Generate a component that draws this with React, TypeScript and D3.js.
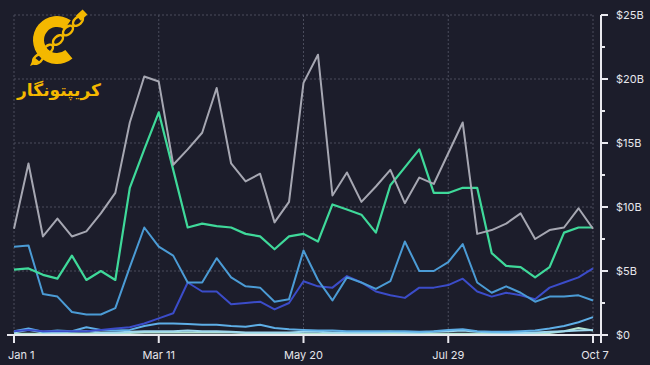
import React from 'react';
import * as d3 from 'd3';

// weekly points, Jan 1 -> Oct 7 2024 (41 weeks)
const weeks = d3.range(41).map((i) => d3.timeDay.offset(new Date(2024, 0, 1), i * 7));

const grayVals = [8.3, 13.4, 7.7, 9.1, 7.7, 8.1, 9.5, 11.1, 16.6, 20.2, 19.8, 13.3, 14.5, 15.8, 19.3, 13.4, 12.0, 12.6, 8.8, 10.4, 19.7, 21.9, 10.9, 12.7, 10.4, 11.6, 12.9, 10.3, 12.3, 11.8, 14.2, 16.6, 7.9, 8.2, 8.7, 9.5, 7.5, 8.2, 8.4, 9.9, 8.3];
const greenVals = [5.1, 5.2, 4.7, 4.4, 6.2, 4.3, 5.0, 4.3, 11.5, 14.5, 17.4, 12.9, 8.4, 8.7, 8.5, 8.4, 7.9, 7.7, 6.7, 7.7, 7.9, 7.3, 10.2, 9.8, 9.4, 8.0, 11.7, 13.1, 14.5, 11.1, 11.1, 11.5, 11.5, 6.4, 5.4, 5.3, 4.5, 5.3, 8.0, 8.4, 8.4];
const steelVals = [6.9, 7.0, 3.2, 3.0, 1.8, 1.6, 1.6, 2.1, 5.3, 8.4, 6.9, 6.2, 4.1, 4.1, 6.0, 4.5, 3.8, 3.7, 2.6, 2.8, 6.6, 4.3, 2.7, 4.5, 4.1, 3.6, 4.2, 7.3, 5.0, 5.0, 5.7, 7.1, 4.1, 3.3, 3.8, 3.3, 2.6, 3.0, 3.0, 3.1, 2.7];
const indigoVals = [0.3, 0.4, 0.3, 0.3, 0.3, 0.3, 0.4, 0.5, 0.6, 0.9, 1.3, 1.7, 4.1, 3.4, 3.4, 2.4, 2.5, 2.6, 2.0, 2.5, 4.2, 3.8, 3.7, 4.6, 4.1, 3.4, 3.1, 2.9, 3.7, 3.7, 3.9, 4.4, 3.4, 3.0, 3.3, 3.1, 2.8, 3.7, 4.1, 4.5, 5.2];
const skyVals = [0.3, 0.5, 0.25, 0.35, 0.3, 0.6, 0.4, 0.35, 0.4, 0.7, 0.9, 0.9, 0.85, 0.8, 0.8, 0.7, 0.65, 0.8, 0.55, 0.45, 0.4, 0.35, 0.35, 0.3, 0.3, 0.3, 0.3, 0.3, 0.25, 0.3, 0.4, 0.45, 0.3, 0.25, 0.25, 0.3, 0.35, 0.5, 0.7, 1.0, 1.4];
const paleVals = [0.2, 0.4, 0.2, 0.2, 0.25, 0.3, 0.2, 0.2, 0.25, 0.3, 0.3, 0.3, 0.35, 0.3, 0.3, 0.25, 0.2, 0.2, 0.2, 0.2, 0.25, 0.25, 0.2, 0.2, 0.2, 0.2, 0.25, 0.2, 0.2, 0.25, 0.3, 0.35, 0.25, 0.2, 0.15, 0.15, 0.2, 0.25, 0.3, 0.35, 0.4];
const mintVals = [0.1, 0.1, 0.1, 0.1, 0.1, 0.1, 0.1, 0.1, 0.15, 0.2, 0.2, 0.2, 0.2, 0.2, 0.2, 0.2, 0.15, 0.15, 0.1, 0.1, 0.1, 0.1, 0.1, 0.1, 0.1, 0.1, 0.1, 0.1, 0.1, 0.1, 0.1, 0.1, 0.1, 0.1, 0.1, 0.1, 0.1, 0.15, 0.3, 0.55, 0.35];

const series = [
  { name: 'mint', values: mintVals, color: '#b4e4cf', width: 2 },
  { name: 'pale', values: paleVals, color: '#9fd8ef', width: 2 },
  { name: 'sky', values: skyVals, color: '#5eaee6', width: 2 },
  { name: 'indigo', values: indigoVals, color: '#3b4cc9', width: 2 },
  { name: 'steel', values: steelVals, color: '#4b9bd5', width: 2 },
  { name: 'green', values: greenVals, color: '#3fd99a', width: 2.2 },
  { name: 'gray', values: grayVals, color: '#a6a7b2', width: 2 },
];

const xTickDates = [new Date(2024, 0, 1), new Date(2024, 2, 11), new Date(2024, 4, 20), new Date(2024, 6, 29), new Date(2024, 9, 7)];
const xTickLabels = ['Jan 1', 'Mar 11', 'May 20', 'Jul 29', 'Oct 7'];
const yTicks = [0, 5, 10, 15, 20, 25];
const yMinor = [2.5, 7.5, 12.5, 17.5, 22.5];

const W = 650;
const H = 365;
const BG = '#1c1d2b';
const GOLD = '#f4b800';

export default function App() {
  const x = d3.scaleTime().domain([weeks[0], weeks[40]]).range([14, 593]);
  const y = d3.scaleLinear().domain([0, 25]).range([335, 15]);
  const axisX = 601;

  const line = d3
    .line<number>()
    .x((_, i) => x(weeks[i]))
    .y((d) => y(d));

  const ringArc = d3.arc()({
    innerRadius: 13,
    outerRadius: 24,
    startAngle: (140 / 180) * Math.PI,
    endAngle: (395 / 180) * Math.PI,
  } as any) as string;

  const links = d3.range(5).map((k) => {
    const t = k / 4;
    return { cx: 78 - t * 40, cy: 21 + t * 38 };
  });

  return (
    <svg
      width={W}
      height={H}
      style={{ position: 'absolute', left: 0, top: 0, background: BG, fontFamily: 'Inter, "DejaVu Sans", sans-serif' }}
    >
      <rect width={W} height={H} fill={BG} />

      {/* grid */}
      <g stroke="#4a4c5c" strokeWidth={1} strokeDasharray="2,2">
        {yTicks.slice(1).map((t) => (
          <line key={'gy' + t} x1={14} x2={593} y1={y(t)} y2={y(t)} />
        ))}
        {xTickDates.map((d, i) => (
          <line key={'gx' + i} x1={x(d)} x2={x(d)} y1={y(25)} y2={y(0)} />
        ))}
      </g>

      {/* logo */}
      <g>
        <path d={ringArc} transform="translate(57,40)" fill={GOLD} />
        {links.map((l, k) => (
          <ellipse
            key={'lk' + k}
            cx={l.cx}
            cy={l.cy}
            rx={6}
            ry={3.6}
            fill="none"
            stroke={GOLD}
            strokeWidth={2.4}
            transform={`rotate(-43 ${l.cx} ${l.cy})`}
          />
        ))}
        <rect x={77} y={12} width={9} height={7} fill={GOLD} transform="rotate(-43 81 15)" />
        <polygon points="30,66 34,57 40,62" fill={GOLD} />
        <text
          x={59}
          y={96}
          textAnchor="middle"
          fontFamily='"DejaVu Sans", sans-serif'
          fontWeight="bold"
          fontSize={17}
          fill={GOLD}
          direction="rtl"
        >
          کریپتونگار
        </text>
      </g>

      {/* lines */}
      {series.map((s) => (
        <path
          key={s.name}
          d={line(s.values) as string}
          fill="none"
          stroke={s.color}
          strokeWidth={s.width}
          strokeLinejoin="round"
        />
      ))}

      {/* x axis */}
      <line x1={7} x2={608} y1={335} y2={335} stroke="#e8e8ee" strokeWidth={2} />
      {xTickDates.map((d, i) => (
        <g key={'xt' + i}>
          <line x1={x(d)} x2={x(d)} y1={335} y2={343} stroke="#e8e8ee" strokeWidth={2} />
          <text
            x={i === 0 ? 8 : x(d) + (i === 4 ? 2 : 0)}
            y={359}
            textAnchor={i === 0 ? 'start' : 'middle'}
            fontSize={11}
            fill="#e6e6ec"
          >
            {xTickLabels[i]}
          </text>
        </g>
      ))}

      {/* y axis */}
      <line x1={axisX} x2={axisX} y1={y(25)} y2={343} stroke="#e8e8ee" strokeWidth={2} />
      {yTicks.map((t) => (
        <g key={'yt' + t}>
          <line x1={axisX} x2={axisX + 7} y1={y(t)} y2={y(t)} stroke="#e8e8ee" strokeWidth={2} />
          <text x={616} y={y(t)} dy="0.35em" fontSize={11} fill="#e6e6ec">
            {t === 0 ? '$0' : `$${t}B`}
          </text>
        </g>
      ))}
      {yMinor.map((t) => (
        <line key={'ym' + t} x1={axisX} x2={axisX + 4} y1={y(t)} y2={y(t)} stroke="#e8e8ee" strokeWidth={2} />
      ))}
    </svg>
  );
}
